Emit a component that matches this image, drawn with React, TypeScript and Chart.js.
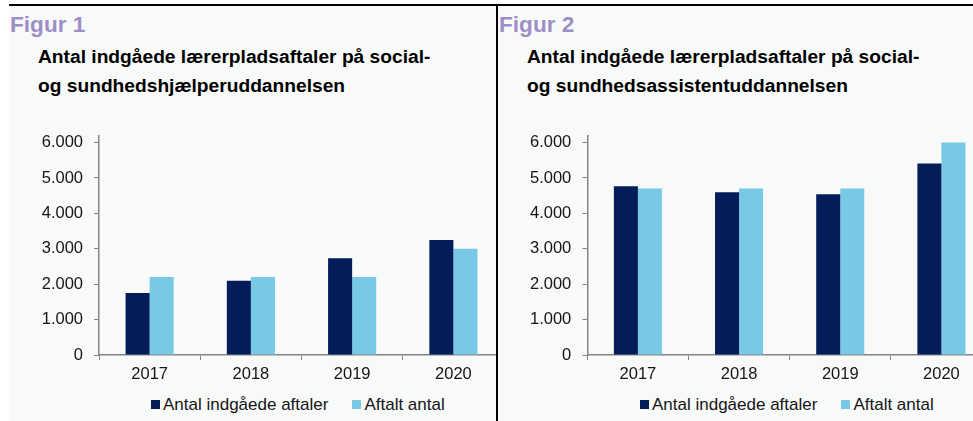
import React, { useEffect, useRef } from "react";
import { Chart, registerables } from "chart.js";

Chart.register(...registerables);

const categories = ["2017", "2018", "2019", "2020"];
const yTicks = [0, 1000, 2000, 3000, 4000, 5000, 6000];

const fig1Indgaaede = [1750, 2100, 2730, 3250];
const fig1Aftalt = [2200, 2200, 2200, 3000];

const fig2Indgaaede = [4770, 4600, 4540, 5410];
const fig2Aftalt = [4700, 4700, 4700, 6000];

const seriesNames = ["Antal indgåede aftaler", "Aftalt antal"];
const DARK = "#041d5a";
const LIGHT = "#77c9e6";
const AXIS = "#858585";
const FONT = "'Liberation Sans', Arial, sans-serif";

function fmt(v: number): string {
  const s = String(Math.round(v));
  return s.replace(/\B(?=(\d{3})+(?!\d))/g, ".");
}

function BarChart(props: { a: number[]; b: number[]; yWidth: number; padRight: number }) {
  const ref = useRef<HTMLCanvasElement | null>(null);
  useEffect(() => {
    if (!ref.current) return;
    const chart = new Chart(ref.current, {
      type: "bar",
      data: {
        labels: categories,
        datasets: [
          { label: seriesNames[0], data: props.a, backgroundColor: DARK, categoryPercentage: 0.475, barPercentage: 1 },
          { label: seriesNames[1], data: props.b, backgroundColor: LIGHT, categoryPercentage: 0.475, barPercentage: 1 },
        ],
      },
      options: {
        animation: false,
        responsive: false,
        devicePixelRatio: 1,
        layout: { padding: { top: 29.5, right: props.padRight, left: 0, bottom: 0 } },
        plugins: { legend: { display: false }, tooltip: { enabled: false }, title: { display: false } },
        scales: {
          x: {
            grid: { display: true, drawOnChartArea: false, drawTicks: true, tickLength: 5, color: AXIS, offset: true },
            border: { display: true, color: AXIS, width: 1.5 },
            ticks: { color: "#151515", font: { family: FONT, size: 16.5 }, padding: 5, maxRotation: 0 },
            afterFit: (s: any) => { s.height = 40; },
          },
          y: {
            min: 0,
            max: 6200,
            afterBuildTicks: (s: any) => { s.ticks = yTicks.map((v) => ({ value: v })); },
            grid: { display: true, drawOnChartArea: false, drawTicks: true, tickLength: 5, color: AXIS },
            border: { display: true, color: AXIS, width: 1.5 },
            ticks: { color: "#151515", font: { family: FONT, size: 16.5 }, padding: 11, callback: (v: any) => fmt(Number(v)) },
            afterFit: (s: any) => { s.width = props.yWidth; },
          },
        },
      },
    });
    return () => chart.destroy();
  }, []);
  return <canvas ref={ref} width={500} height={289} style={{ position: "absolute", left: 0, top: 100, width: 500, height: 289 }} />;
}

function Legend(props: { left: number }) {
  const item = (color: string, text: string, gapAfter: number) => (
    <div style={{ display: "flex", alignItems: "center", marginRight: gapAfter }}>
      <div style={{ width: 9, height: 9, background: color, marginRight: 3 }} />
      <span>{text}</span>
    </div>
  );
  return (
    <div style={{ position: "absolute", left: props.left, top: 396, height: 17, lineHeight: "17px", fontSize: 17, fontFamily: FONT, color: "#151515", display: "flex", whiteSpace: "nowrap" }}>
      {item(DARK, seriesNames[0], 24)}
      {item(LIGHT, seriesNames[1], 0)}
    </div>
  );
}

function Panel(props: { left: number; width: number; fig: string; line1: string; line2: string; a: number[]; b: number[]; yWidth: number; padRight: number }) {
  return (
    <div style={{ position: "absolute", left: props.left, top: 6, width: props.width, height: 415, background: "#f8f9f9", overflow: "hidden" }}>
      <div style={{ position: "absolute", left: 1, top: 8, fontFamily: FONT, fontWeight: "bold", fontSize: 22.6, lineHeight: "22px", color: "#9d8fc6", whiteSpace: "nowrap" }}>{props.fig}</div>
      <div style={{ position: "absolute", left: 29, top: 37.2, fontFamily: FONT, fontWeight: "bold", fontSize: 19.2, lineHeight: "28.7px", color: "#000", whiteSpace: "nowrap" }}>
        <div>{props.line1}</div>
        <div>{props.line2}</div>
      </div>
      <BarChart a={props.a} b={props.b} yWidth={props.yWidth} padRight={props.padRight} />
    </div>
  );
}

export default function App() {
  return (
    <div style={{ position: "fixed", left: 0, top: 0, width: 973, height: 421, overflow: "hidden", background: "#fff" }}>
      <Panel left={9} width={487} fig="Figur 1" line1="Antal indgåede lærerpladsaftaler på social-" line2="og sundhedshjælperuddannelsen" a={fig1Indgaaede} b={fig1Aftalt} yWidth={90} padRight={5} />
      <Panel left={498} width={475} fig="Figur 2" line1="Antal indgåede lærerpladsaftaler på social-" line2="og sundhedsassistentuddannelsen" a={fig2Indgaaede} b={fig2Aftalt} yWidth={89.3} padRight={6} />
      <div style={{ position: "absolute", left: 151, top: 0 }}><Legend left={0} /></div>
      <div style={{ position: "absolute", left: 640, top: 0 }}><Legend left={0} /></div>
      <div style={{ position: "absolute", left: 9, top: 4, width: 964, height: 2, background: "#000" }} />
      <div style={{ position: "absolute", left: 496, top: 4, width: 2, height: 417, background: "#000" }} />
    </div>
  );
}
